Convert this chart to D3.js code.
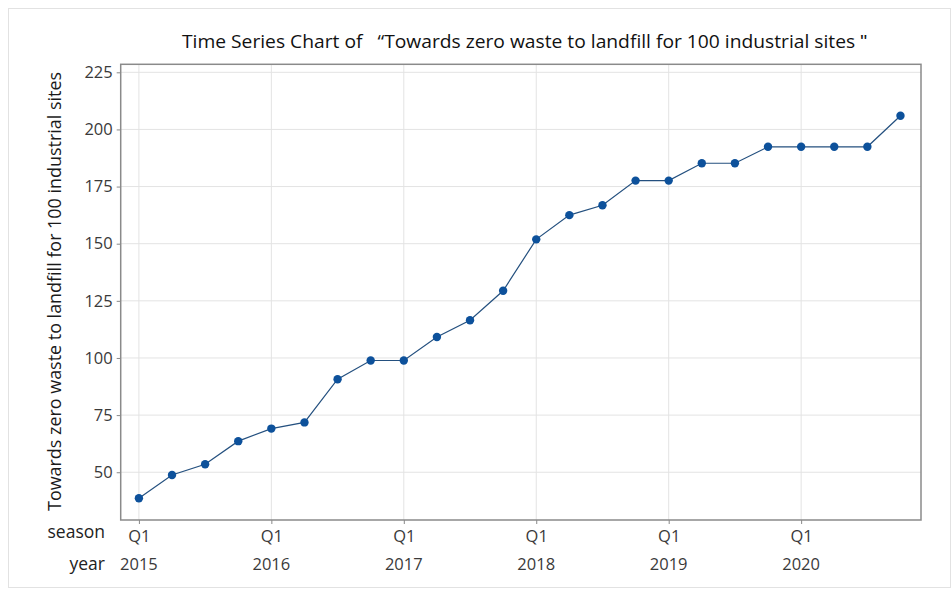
<!DOCTYPE html>
<html><head><meta charset="utf-8">
<script src="https://cdn.jsdelivr.net/npm/d3@7"></script>
<style>body{margin:0;background:#fff;} svg{display:block;} text{font-family:"Open Sans",sans-serif;}</style>
</head><body>
<svg id="c" width="952" height="595"></svg>
<script>
const years = [2015, 2016, 2017, 2018, 2019, 2020];
const seasons = ["Q1", "Q2", "Q3", "Q4"];
const values = [38.6, 48.8, 53.5, 63.6, 69.1, 71.8, 90.7, 98.9, 98.9, 109.2, 116.5, 129.4,
                151.9, 162.5, 166.8, 177.6, 177.6, 185.2, 185.2, 192.4, 192.4, 192.4, 192.4, 206.0];
const yTicks = [50, 75, 100, 125, 150, 175, 200, 225];
const titleText = "Time Series Chart of   \u201CTowards zero waste to landfill for 100 industrial sites \u02BA";
const yLabel = "Towards zero waste to landfill for 100 industrial sites";

const data = values.map((v, i) => ({i, v, season: seasons[i % 4], year: years[Math.floor(i / 4)]}));

const svg = d3.select("#c");
const L = 120.7, R = 921, T = 64.3, B = 520;

// outer light frame
svg.append("rect").attr("x", 8.5).attr("y", 8.5).attr("width", 942).attr("height", 579)
  .attr("fill", "none").attr("stroke", "#e2e2e2").attr("stroke-width", 1);

const x = d3.scaleLinear().domain([-0.55, 23.62]).range([L, R]);
const y = d3.scaleLinear().domain([29.1, 228.5]).range([B, T]);

const q1 = data.filter(d => d.season === "Q1");

// gridlines
svg.append("g").selectAll("line").data(yTicks).join("line")
  .attr("x1", L).attr("x2", R).attr("y1", d => y(d)).attr("y2", d => y(d))
  .attr("stroke", "#e3e3e3").attr("stroke-width", 1);
svg.append("g").selectAll("line").data(q1).join("line")
  .attr("y1", T).attr("y2", B).attr("x1", d => x(d.i)).attr("x2", d => x(d.i))
  .attr("stroke", "#e3e3e3").attr("stroke-width", 1);

// y axis
const yAxis = d3.axisLeft(y).tickValues(yTicks).tickSize(4).tickPadding(4);
const gy = svg.append("g").attr("transform", `translate(${L},0)`).call(yAxis);
gy.select(".domain").remove();
gy.selectAll(".tick line").attr("stroke", "#888");
gy.selectAll(".tick text").attr("font-size", 16.5).attr("fill", "#3a3a3a").attr("font-family", "Open Sans");

// x axis (Q1 ticks)
const xAxis = d3.axisBottom(x).tickValues(q1.map(d => d.i)).tickSize(4).tickFormat(i => data[i].season).tickPadding(6);
const gx = svg.append("g").attr("transform", `translate(0,${B})`).call(xAxis);
gx.select(".domain").remove();
gx.selectAll(".tick line").attr("stroke", "#888");
gx.selectAll(".tick text").attr("font-size", 16.5).attr("fill", "#3a3a3a").attr("font-family", "Open Sans");

// year row
svg.append("g").selectAll("text").data(q1).join("text")
  .attr("x", d => x(d.i)).attr("y", 570).attr("text-anchor", "middle")
  .attr("font-size", 16.5).attr("fill", "#3a3a3a").text(d => d.year);

// row labels
svg.append("text").attr("x", 105).attr("y", 538).attr("text-anchor", "end")
  .attr("font-size", 17.5).attr("fill", "#222").text("season");
svg.append("text").attr("x", 105).attr("y", 570).attr("text-anchor", "end")
  .attr("font-size", 17.5).attr("fill", "#222").text("year");

// frame
svg.append("rect").attr("x", L).attr("y", T).attr("width", R - L).attr("height", B - T)
  .attr("fill", "none").attr("stroke", "#8a8a8a").attr("stroke-width", 1.5);

// line + markers
svg.append("path").datum(data)
  .attr("d", d3.line().x(d => x(d.i)).y(d => y(d.v)))
  .attr("fill", "none").attr("stroke", "#24507f").attr("stroke-width", 1.2);
svg.append("g").selectAll("circle").data(data).join("circle")
  .attr("cx", d => x(d.i)).attr("cy", d => y(d.v)).attr("r", 4.2)
  .attr("fill", "#0d519b");

// title
svg.append("text").attr("x", 182).attr("y", 47.5).attr("font-size", 18.5).attr("fill", "#111")
  .attr("textLength", 685).attr("lengthAdjust", "spacingAndGlyphs").attr("xml:space", "preserve")
  .style("white-space", "pre").text(titleText);

// y label
svg.append("text").attr("transform", "translate(61,291.5) rotate(-90)").attr("text-anchor", "middle")
  .attr("font-size", 17.5).attr("fill", "#1a1a1a")
  .attr("textLength", 439).attr("lengthAdjust", "spacingAndGlyphs").text(yLabel);
</script>
</body></html>
